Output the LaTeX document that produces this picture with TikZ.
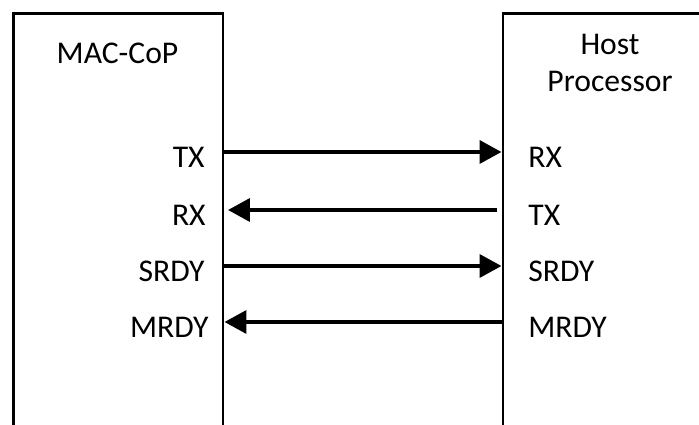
\documentclass[tikz,border=0pt]{standalone}
\usepackage{fontspec}
\setmainfont{Carlito}
\usetikzlibrary{arrows.meta}

\tikzset{
  unit/.style={draw, line width=1.7pt, minimum height=9cm, anchor=north west, inner sep=0pt},
  sig/.style={line width=2.3pt, -{Triangle[length=12.5pt,width=13pt]}},
  lbl/.style={font=\fontsize{18}{21}\selectfont, inner sep=0pt}
}

\begin{document}
\begin{tikzpicture}
\useasboundingbox (0,0) rectangle (13.98,-8.5);
\node[unit, minimum width=4.19cm] (mac) at (0.24,-0.24) {};
\node[unit, minimum width=5cm] (host) at (10.03,-0.24) {};

\node[lbl] (macname) at (2.35,-1.06) {MAC-CoP};
\node[lbl, align=center] (hostname) at (12.2,-1.26) {Host\\Processor};

% signal levels
\coordinate (s1) at (7,-3.04);
\coordinate (s2) at (7,-4.2);
\coordinate (s3) at (7,-5.32);
\coordinate (s4) at (7,-6.44);

\node[lbl, anchor=base east] (mtx) at (4.1,-3.36) {TX};
\node[lbl, anchor=base east] (mrx) at (4.12,-4.52) {RX};
\node[lbl, anchor=base east] (msrdy) at (4.1,-5.64) {SRDY};
\node[lbl, anchor=base east] (mmrdy) at (4.18,-6.76) {MRDY};

\node[lbl, anchor=base west] (hrx) at (10.56,-3.36) {RX};
\node[lbl, anchor=base west] (htx) at (10.56,-4.52) {TX};
\node[lbl, anchor=base west] (hsrdy) at (10.56,-5.64) {SRDY};
\node[lbl, anchor=base west] (hmrdy) at (10.56,-6.76) {MRDY};

\draw[sig] (mac.east |- s1) -- (host.west |- s1);
\draw[sig] ([xshift=-0.1cm]host.west |- s2) -- ([xshift=0.07cm]mac.east |- s2);
\draw[sig] (mac.east |- s3) -- (host.west |- s3);
\draw[sig] (host.west |- s4) -- (mac.east |- s4);
\end{tikzpicture}
\end{document}
